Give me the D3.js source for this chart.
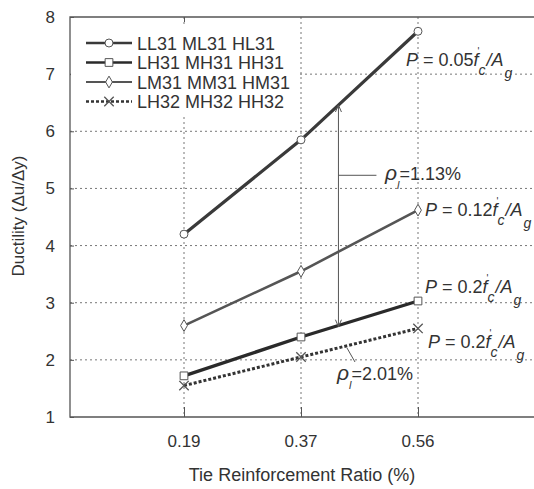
<!DOCTYPE html>
<html lang="en">
  <head>
    <meta charset="utf-8" />
    <title>Ductility vs tie reinforcement ratio</title>
    <style>
      body { margin: 0; background: #fff; }
      svg text { font-family: "Liberation Sans", Arial, sans-serif; fill: #333; }
    </style>
  </head>
  <body>
    <div id="graph-display"></div>
    <script src="https://d3js.org/d3.v7.min.js"></script>
    <script>
      // data
      const tieRatios = ["0.19", "0.37", "0.56"];
      const yTicks = [1, 2, 3, 4, 5, 6, 7, 8];
      const seriesNames = ["LL31 ML31 HL31", "LH31 MH31 HH31", "LM31 MM31 HM31", "LH32 MH32 HH32"];
      const ll31 = [4.2, 5.85, 7.75];
      const lh31 = [1.72, 2.4, 3.03];
      const lm31 = [2.6, 3.55, 4.62];
      const lh32 = [1.55, 2.05, 2.55];
      const loadLabels = ["0.05", "0.2", "0.12", "0.2"];

      const width = 534, height = 489;
      const margin = { left: 70, top: 17, right: 0, bottom: 72 };

      const svg = d3.select("#graph-display").append("svg")
        .attr("width", width).attr("height", height);

      // categories sit at 1..3, with one empty slot each side
      const x = d3.scaleLinear().domain([0, 4]).range([67, 535]);
      const y = d3.scaleLinear().domain([1, 8]).range([417, 17]);

      const grid = svg.append("g").attr("stroke", "#777").attr("stroke-dasharray", "2,3").attr("stroke-width", 1);
      yTicks.slice(1, -1).forEach(v => {
        grid.append("line").attr("x1", margin.left).attr("x2", width).attr("y1", y(v)).attr("y2", y(v));
      });
      tieRatios.forEach((t, i) => {
        grid.append("line").attr("x1", x(i + 1)).attr("x2", x(i + 1)).attr("y1", y(8)).attr("y2", y(1));
      });

      // frame
      svg.append("path")
        .attr("d", `M${width},${y(8)}H${margin.left}V${y(1)}H${width}`)
        .attr("fill", "none").attr("stroke", "#555").attr("stroke-width", 1.3);

      // axes with inward ticks
      const yAxis = svg.append("g").attr("transform", `translate(${margin.left},0)`)
        .call(d3.axisRight(y).tickValues(yTicks).tickSize(4).tickFormat(""));
      yAxis.select(".domain").remove();
      yAxis.selectAll("line").attr("stroke", "#555");
      yTicks.forEach(v => {
        svg.append("text").attr("x", 55).attr("y", y(v) + 6).attr("text-anchor", "end")
          .attr("font-size", 17).text(v);
      });

      const xAxis = svg.append("g").attr("transform", `translate(0,${y(1)})`)
        .call(d3.axisTop(x).tickValues([1, 2, 3]).tickSize(10).tickFormat((d) => ""));
      xAxis.select(".domain").remove();
      xAxis.selectAll("line").attr("stroke", "#555");
      tieRatios.forEach((t, i) => {
        svg.append("text").attr("x", x(i + 1)).attr("y", 447).attr("text-anchor", "middle")
          .attr("font-size", 17).text(t);
      });
      svg.append("g").attr("transform", `translate(0,${y(8)})`)
        .call(d3.axisBottom(x).tickValues([1]).tickSize(5).tickFormat(""))
        .call(g => g.select(".domain").remove())
        .selectAll("line").attr("stroke", "#555");

      svg.append("text").attr("x", 302).attr("y", 481).attr("text-anchor", "middle")
        .attr("font-size", 18).text("Tie Reinforcement Ratio (%)");
      svg.append("text").attr("transform", "translate(24,216) rotate(-90)").attr("text-anchor", "middle")
        .attr("font-size", 17).text("Ductility (\u0394u/\u0394y)");

      const styles = [
        { data: ll31, stroke: "#3a3a3a", w: 3.2, dash: null, marker: "circle" },
        { data: lh31, stroke: "#2a2a2a", w: 3.4, dash: null, marker: "square" },
        { data: lm31, stroke: "#555", w: 2.6, dash: null, marker: "diamond" },
        { data: lh32, stroke: "#333", w: 3, dash: "3,2", marker: "cross" }
      ];

      const line = d3.line().x((d, i) => x(i + 1)).y(d => y(d));

      const drawMarker = (g, type, cx, cy) => {
        const m = g.append("path").attr("fill", "none").attr("stroke", "#555").attr("stroke-width", 1);
        if (type === "circle") m.attr("d", d3.symbol(d3.symbolCircle, 50)()).attr("fill", "#fff");
        if (type === "square") m.attr("d", d3.symbol(d3.symbolSquare, 60)()).attr("fill", "#fff");
        if (type === "diamond") m.attr("d", d3.symbol(d3.symbolDiamond, 40)()).attr("fill", "#fff");
        if (type === "cross") m.attr("d", d3.symbol(d3.symbolTimes, 60)()).attr("stroke-width", 1.3);
        m.attr("transform", `translate(${cx},${cy})`);
      };

      styles.forEach(s => {
        svg.append("path").datum(s.data).attr("d", line).attr("fill", "none")
          .attr("stroke", s.stroke).attr("stroke-width", s.w)
          .attr("stroke-dasharray", s.dash);
        s.data.forEach((v, i) => drawMarker(svg, s.marker, x(i + 1), y(v)));
      });

      // legend (white box hides the grid)
      svg.append("rect").attr("x", 71).attr("y", 27).attr("width", 227).attr("height", 88).attr("fill", "#fff");
      styles.forEach((s, i) => {
        const ly = 43 + i * 19.5;
        svg.append("line").attr("x1", 86).attr("x2", 132).attr("y1", ly).attr("y2", ly)
          .attr("stroke", s.stroke).attr("stroke-width", s.w * 0.8).attr("stroke-dasharray", s.dash);
        drawMarker(svg, s.marker, 109, ly);
        svg.append("text").attr("x", 137).attr("y", ly + 6.5).attr("font-size", 18)
          .attr("fill", i === 2 ? "#666" : "#333").text(seriesNames[i]);
      });

      // put text pieces one after another, each its own node
      const chain = (px, py, parts) => {
        let cx = px;
        parts.forEach(p => {
          const t = svg.append("text").attr("x", cx + (p.gap || 0)).attr("y", py + (p.dy || 0))
            .attr("font-size", p.size).attr("font-style", p.italic ? "italic" : null);
          if (p.pieces) {
            p.pieces.forEach(q => t.append("tspan").attr("font-style", q[1] ? "italic" : null).text(q[0]));
          } else t.text(p.text);
          if (!p.stay) cx += (p.gap || 0) + t.node().getComputedTextLength();
        });
      };

      // load labels  P = k f'c / Ag
      const loadPos = [[406, 66], [425, 293], [425, 216], [428, 348]];
      loadLabels.forEach((k, i) => {
        chain(loadPos[i][0], loadPos[i][1], [
          { size: 18, pieces: [["P", true], [" = " + k, false], ["f", true]] },
          { text: "'", size: 10, dy: -11, gap: -1, stay: true },
          { text: "c", size: 14, italic: true, dy: 9, gap: 0 },
          { text: "/A", size: 18, italic: true, gap: 1 },
          { text: "g", size: 14, italic: true, dy: 12, gap: 1 }
        ]);
      });

      // rho annotations
      const ax = x(2.32);
      const ann = svg.append("g").attr("stroke", "#555").attr("stroke-width", 1).attr("fill", "none");
      ann.append("line").attr("x1", ax).attr("x2", ax).attr("y1", y(6.46)).attr("y2", y(2.58));
      ann.append("line").attr("x1", ax).attr("x2", ax + 38).attr("y1", y(5.23)).attr("y2", y(5.23));
      ann.append("path").attr("d", `M${ax - 3},${y(6.46) + 7}L${ax},${y(6.46)}L${ax + 3},${y(6.46) + 7}`);
      ann.append("path").attr("d", `M${ax - 3},${y(2.58) - 7}L${ax},${y(2.58)}L${ax + 3},${y(2.58) - 7}`);
      ann.append("line").attr("x1", 347).attr("x2", 355).attr("y1", 348).attr("y2", 362);

      const rho = (px, py, val) => chain(px, py, [
        { text: "\u03c1", size: 21, italic: true },
        { text: "l", size: 11, italic: true, dy: 9, gap: 0 },
        { text: "=" + val, size: 18, gap: 0 }
      ]);
      rho(385, 180, "1.13%");
      rho(337, 380, "2.01%");
    </script>
  </body>
</html>
